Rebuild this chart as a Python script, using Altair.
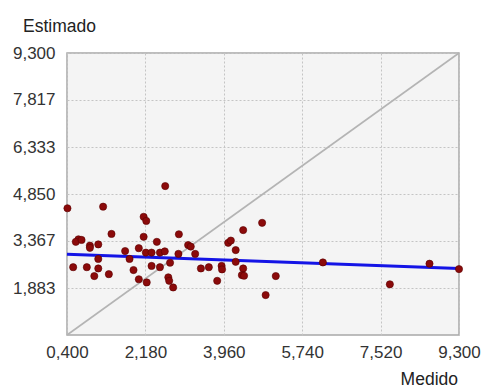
import altair as alt
import pandas as pd

medido = [0.41, 1.22, 2.63, 2.14, 2.20, 1.41, 2.14, 2.94, 0.66, 0.60, 0.73, 0.92, 0.92,
          1.11, 2.44, 3.15, 3.21, 1.72, 2.03, 2.19, 2.32, 2.51, 2.62, 3.31, 2.93, 1.11,
          1.82, 2.74, 0.54, 0.85, 1.11, 2.32, 2.51, 1.91, 1.02, 1.35, 2.70, 2.72, 2.03,
          2.21, 2.81, 3.44, 3.62, 3.81, 3.91, 3.92, 4.06, 4.12, 4.23, 4.40, 4.83, 4.23,
          4.40, 4.37, 4.42, 5.14, 4.91, 6.21, 7.73, 8.63, 9.30]
estimado = [4.40, 4.45, 5.10, 4.13, 4.00, 3.59, 3.50, 3.58, 3.42, 3.34, 3.40, 3.22, 3.15,
            3.26, 3.34, 3.24, 3.19, 3.05, 3.14, 3.00, 3.00, 3.00, 3.04, 2.96, 2.96, 2.80,
            2.80, 2.68, 2.54, 2.54, 2.50, 2.58, 2.54, 2.45, 2.26, 2.32, 2.22, 2.11, 2.16,
            2.06, 1.90, 2.50, 2.54, 2.11, 2.58, 2.47, 3.31, 3.38, 3.08, 3.71, 3.94, 2.71,
            2.50, 2.29, 2.27, 2.26, 1.66, 2.69, 2.00, 2.65, 2.48]

# 1:1 reference line and fitted trend line
ref_x = [0.4, 9.3]
ref_y = [0.4, 9.3]
fit_x = [0.4, 9.3]
fit_y = [2.95, 2.50]

x_ticks = [0.4, 2.18, 3.96, 5.74, 7.52, 9.3]
y_ticks = [1.883, 3.367, 4.85, 6.333, 7.817, 9.3]

y_title = ["Estimado"]
x_title = ["Medido"]

pts = pd.DataFrame({"Medido": medido, "Estimado": estimado})
ref = pd.DataFrame({"Medido": ref_x, "Estimado": ref_y})
fit = pd.DataFrame({"Medido": fit_x, "Estimado": fit_y})

label_expr = "replace(format(datum.value, '.3f'), '.', ',')"
FONT = "Liberation Sans"

xs = alt.Scale(domain=[0.4, 9.3], nice=False, zero=False)
ys = alt.Scale(domain=[0.4, 9.3], nice=False, zero=False)

x_axis = alt.Axis(values=x_ticks, labelExpr=label_expr, title=None,
                  grid=True, gridColor="#c4c4c4", gridDash=[2, 2], gridWidth=1,
                  domain=False, ticks=False, labelPadding=9, labelFontSize=17,
                  labelFlush=False, labelOverlap=False, labelBound=False,
                  labelFont=FONT, labelColor="#333333")
y_axis = alt.Axis(values=y_ticks, labelExpr=label_expr, title=None,
                  grid=True, gridColor="#c4c4c4", gridDash=[2, 2], gridWidth=1,
                  domain=False, ticks=False, labelPadding=12, labelFontSize=17,
                  labelFlush=False, labelOverlap=False, labelBound=False,
                  labelFont=FONT, labelColor="#333333")

enc_x = alt.X("Medido:Q", scale=xs, axis=x_axis)
enc_y = alt.Y("Estimado:Q", scale=ys, axis=y_axis)

ref_line = alt.Chart(ref).mark_line(color="#b4b4b4", strokeWidth=1.6).encode(
    x=alt.X("Medido:Q", scale=xs), y=alt.Y("Estimado:Q", scale=ys))
fit_line = alt.Chart(fit).mark_line(color="#1414e6", strokeWidth=3).encode(
    x=alt.X("Medido:Q", scale=xs), y=alt.Y("Estimado:Q", scale=ys))
points = alt.Chart(pts).mark_circle(color="#8b0a0a", opacity=1, size=52,
                                    stroke="#5a0000", strokeWidth=0.6).encode(
    x=enc_x, y=enc_y)

ytitle = alt.Chart(pd.DataFrame({"t": y_title})).mark_text(
    align="left", baseline="alphabetic", font=FONT, fontSize=17.5, color="#222222"
).encode(x=alt.value(-44), y=alt.value(-21), text="t:N")
xtitle = alt.Chart(pd.DataFrame({"t": x_title})).mark_text(
    align="right", baseline="alphabetic", font=FONT, fontSize=17.5, color="#222222"
).encode(x=alt.value(391), y=alt.value(332), text="t:N")

chart = alt.layer(ref_line, fit_line, points, ytitle, xtitle).properties(
    width=392, height=282,
    autosize=alt.AutoSizeParams(type="none"),
    padding={"left": 67, "top": 53, "right": 25, "bottom": 53},
    background="white",
).configure_view(
    fill="#f4f4f4", stroke="#a8a8a8", strokeWidth=1.5
)

chart.save("out.html", embed_options={"renderer": "svg", "actions": False})
